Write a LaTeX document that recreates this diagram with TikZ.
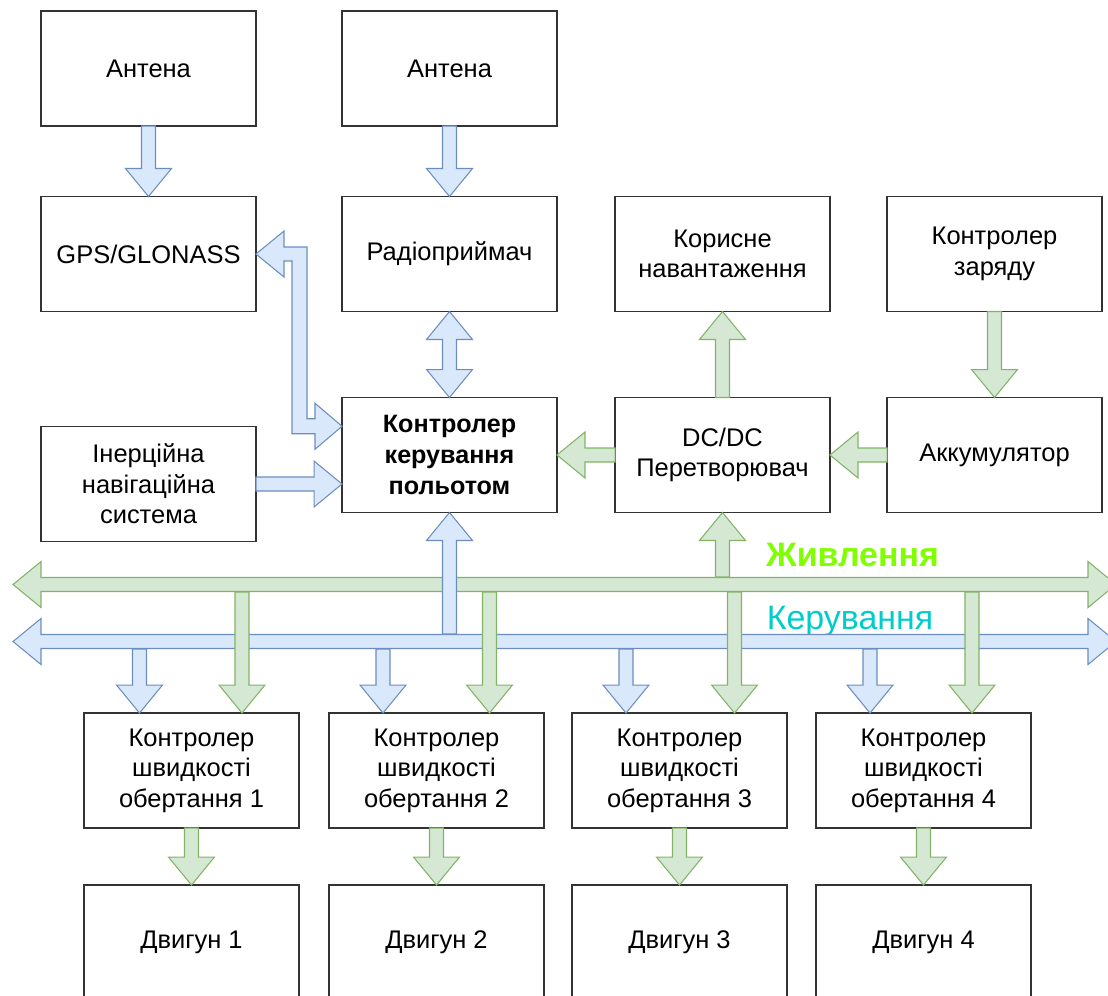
\documentclass[tikz,border=0pt]{standalone}
\usepackage{fontspec}
\setmainfont{Liberation Sans}
\usetikzlibrary{calc}

\definecolor{ctlfill}{HTML}{DAE8FC}
\definecolor{ctldraw}{HTML}{6C8EBF}
\definecolor{pwrfill}{HTML}{D5E8D4}
\definecolor{pwrdraw}{HTML}{82B366}
\definecolor{pwrtext}{HTML}{80FF00}
\definecolor{ctltext}{HTML}{00CCCC}

\newcommand\arrshaft{0.14cm}
\newcommand\arrhead{0.46cm}
\newcommand\arrlen{0.56cm}

% wide arrow, head at #3
\newcommand\flexarrow[3]{%
  \path #2 coordinate (fa-s) #3 coordinate (fa-e);
  \path ($(fa-e)!\arrlen!(fa-s)$) coordinate (fa-b);
  \filldraw[#1] ($(fa-s)!\arrshaft!90:(fa-e)$) -- ($(fa-b)!\arrshaft!90:(fa-e)$)
    -- ($(fa-b)!\arrhead!90:(fa-e)$) -- (fa-e) -- ($(fa-b)!\arrhead!-90:(fa-e)$)
    -- ($(fa-b)!\arrshaft!-90:(fa-e)$) -- ($(fa-s)!\arrshaft!-90:(fa-e)$) -- cycle;
}
% wide arrow, heads at both ends
\newcommand\flexarrowboth[3]{%
  \path #2 coordinate (fa-s) #3 coordinate (fa-e);
  \path ($(fa-s)!\arrlen!(fa-e)$) coordinate (fa-a) ($(fa-e)!\arrlen!(fa-s)$) coordinate (fa-b);
  \filldraw[#1] (fa-s) -- ($(fa-a)!\arrhead!90:(fa-e)$) -- ($(fa-a)!\arrshaft!90:(fa-e)$)
    -- ($(fa-b)!\arrshaft!90:(fa-e)$) -- ($(fa-b)!\arrhead!90:(fa-e)$) -- (fa-e)
    -- ($(fa-b)!\arrhead!-90:(fa-e)$) -- ($(fa-b)!\arrshaft!-90:(fa-e)$)
    -- ($(fa-a)!\arrshaft!-90:(fa-e)$) -- ($(fa-a)!\arrhead!-90:(fa-e)$) -- cycle;
}

\begin{document}
\begin{tikzpicture}[x=0.02cm,y=-0.02cm]
  \tikzstyle{block}=[draw=black!80,line width=0.9pt,fill=white,shape=rectangle,
    minimum width=4.3cm,minimum height=2.3cm,inner sep=0pt,outer sep=0pt,
    align=center,font=\fontsize{14.5}{17.3}\selectfont]
  \tikzstyle{ctl}=[fill=ctlfill,draw=ctldraw,line width=0.6pt]
  \tikzstyle{pwr}=[fill=pwrfill,draw=pwrdraw,line width=0.6pt]
  \useasboundingbox (0,0) rectangle (1108,995);

  \node[block] (ant1)  at (148.5,68.5) {Антена};
  \node[block] (ant2)  at (449.5,68.5) {Антена};
  \node[block] (gps)   at (148.5,254)  {GPS/GLONASS};
  \node[block] (radio) at (449.5,254)  {Радіоприймач};
  \node[block] (load)  at (722.5,254)  {Корисне\\навантаження};
  \node[block] (chg)   at (994.5,254)  {Контролер\\заряду};
  \node[block] (ins)   at (148.5,484)  {Інерційна\\навігаційна\\система};
  \node[block,font=\fontsize{14.3}{17.8}\selectfont\bfseries] (fc) at (449.5,455)
    {Контролер\\керування\\польотом};
  \node[block] (dc)    at (722.5,455)  {DC/DC\\Перетворювач};
  \node[block] (bat)   at (994.5,455)  {Аккумулятор};
  \foreach \i/\x in {1/191.5,2/436.5,3/679.5,4/923.5} {
    \node[block] (sc\i) at (\x,770.5) {Контролер\\швидкості\\обертання \i};
    \node[block] (m\i)  at (\x,942.5) {Двигун \i};
  }

  \node[anchor=base,text=pwrtext,font=\fontsize{19.3}{21}\selectfont\bfseries]
    (pwrlbl) at (852.5,566) {Живлення};
  \node[anchor=base,text=ctltext,font=\fontsize{19.3}{21}\selectfont]
    (ctllbl) at (850,629) {Керування};

  \flexarrow{ctl}{(ant1.south)}{(gps.north)}
  \flexarrow{ctl}{(ant2.south)}{(radio.north)}
  \flexarrowboth{ctl}{(radio.south)}{(fc.north)}
  \flexarrow{ctl}{(ins.east)}{(ins.east -| fc.west)}

  \coordinate (e1) at (gps.east);
  \coordinate (e2) at ($(fc.north west)!0.25!(fc.south west)$);
  \filldraw[ctl] (e1) -- ($(e1)+(28,-23)$) -- ($(e1)+(28,-7)$) -- ($(e1)+(51,-7)$)
    -- ($(e2)+(-35,-7.5)$) -- ($(e2)+(-27,-7.5)$) -- ($(e2)+(-27,-23)$) -- (e2)
    -- ($(e2)+(-27,23)$) -- ($(e2)+(-27,7.5)$) -- ($(e2)+(-50,7.5)$)
    -- ($(e1)+(36,7)$) -- ($(e1)+(28,7)$) -- ($(e1)+(28,23)$) -- cycle;

  \flexarrow{pwr}{(dc.west)}{(fc.east)}
  \flexarrow{pwr}{(bat.west)}{(dc.east)}
  \flexarrow{pwr}{(chg.south)}{(bat.north)}
  \flexarrow{pwr}{(dc.north)}{(load.south)}

  % buses
  \coordinate (pwrL) at (13,584.5);
  \coordinate (pwrR) at (1116,584.5);
  \coordinate (ctlL) at (13,641.5);
  \coordinate (ctlR) at (1116,641.5);
  \coordinate (pwrtop) at (0,577);
  \coordinate (pwrbot) at (0,592);
  \coordinate (ctltop) at (0,634);
  \coordinate (ctlbot) at (0,649);
  \flexarrowboth{pwr}{(pwrL)}{(pwrR)}
  \flexarrowboth{ctl}{(ctlL)}{(ctlR)}
  \flexarrow{ctl}{(fc.south |- ctltop)}{(fc.south)}
  \flexarrow{pwr}{(dc.south |- pwrtop)}{(dc.south)}

  \foreach \i/\b/\g in {1/-52/50.5,2/-53.5/53,3/-53.5/55,4/-53.5/48.5} {
    \path (sc\i.north) ++(\b,0) coordinate (cd\i);
    \path (sc\i.north) ++(\g,0) coordinate (pd\i);
    \flexarrow{ctl}{(cd\i |- ctlbot)}{(cd\i)}
    \flexarrow{pwr}{(pd\i |- pwrbot)}{(pd\i)}
    \flexarrow{pwr}{(sc\i.south)}{(m\i.north)}
  }
\end{tikzpicture}
\end{document}
